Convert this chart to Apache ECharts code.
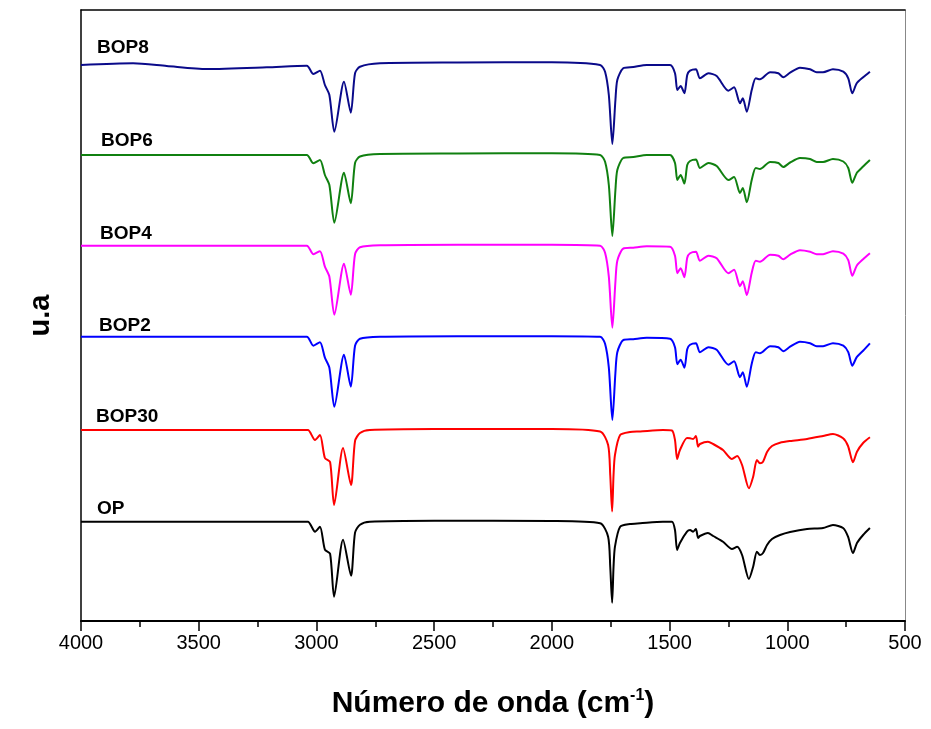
<!DOCTYPE html>
<html>
<head>
<meta charset="utf-8">
<script src="https://cdn.jsdelivr.net/npm/echarts@6/dist/echarts.min.js"></script>
<style>
html,body{margin:0;padding:0;background:#fff;}
#chart{width:931px;height:729px;}
</style>
</head>
<body>
<div id="chart"></div>
<script>
// Wavenumber grids (cm-1)
const wnA = [4000, 3500, 3070, 3036, 3006, 2985, 2964, 2942, 2925, 2887,
  2853, 2836, 2815, 2773, 2500, 2000, 1795, 1761, 1752, 1744,
  1738, 1732, 1710, 1668, 1625, 1528, 1490, 1477, 1468, 1456,
  1426, 1413, 1400, 1388, 1379, 1371, 1337, 1315, 1273, 1235,
  1213, 1192, 1163, 1145, 1129, 1116, 1103, 1086, 1065, 1031,
  988, 916, 848, 806, 763, 742, 721, 704, 678, 649];
const wnB = [4000, 3779, 3636, 3466, 3211, 3041, 3013, 2985, 2964, 2945,
  2924, 2883, 2854, 2836, 2815, 2730, 2400, 2000, 1795, 1774,
  1758, 1743, 1730, 1722, 1697, 1654, 1597, 1498, 1477, 1467,
  1453, 1437, 1425, 1413, 1388, 1371, 1335, 1300, 1250, 1226,
  1201, 1189, 1172, 1151, 1134, 1116, 1073, 1038, 1017, 988,
  946, 903, 875, 848, 806, 762, 741, 724, 705, 678,
  649];

// Band depth below each spectrum's baseline (u.a.)
const depthOP = [0, 0, 0, 0, 10, 5, 28, 32, 75, 18,
  54, 11, 3, 0, -1, -0.7, 1.6, 15, 45, 81,
  45, 25, 5, 2.3, 1.6, 0, 0, 8.3, 28.3, 21.3,
  10, 8.3, 10, 7.3, 16.3, 14.3, 11.3, 14.3, 20, 27.3,
  25, 33.3, 57.3, 45, 30, 33.3, 31.3, 23.3, 17.3, 13.3,
  10.3, 7.3, 6.3, 3.3, 6.3, 15, 31.3, 21.3, 13.3, 6.3];
const depthBOP30 = [0, 0, 0, 0, 10, 5, 28, 32, 75, 18,
  55, 11, 3, 0, -1, -1, 1.5, 15, 45, 81.5,
  45, 25, 5, 2, 1.5, 0, 0.5, 10, 29, 20,
  8, 8.3, 9, 6, 16.7, 14, 11.7, 14, 20, 29,
  26, 35, 58.3, 46.7, 30, 33.3, 31.7, 22, 16, 12.7,
  11, 9, 6, 4, 8.3, 16, 32.3, 21.7, 13, 7.3];
const depthBOP2 = [0, 0, 0, 0, 0, 0, 9, 5.5, 21, 31,
  70, 18, 50, 9, 2, 0, -0.5, -0.5, 0, 7,
  31, 83.3, 36, 15.5, 3.5, 2.5, 1, 2, 10.5, 27.5,
  23, 31, 12.5, 8, 6.5, 15.5, 10.5, 13, 28, 24.5,
  40.5, 35.5, 50, 27, 15.5, 16.5, 9.5, 10.5, 14.5, 10,
  5, 6.5, 9.5, 9.5, 6.5, 9, 15.5, 29, 20.5, 14,
  6.6];
const depthBOP4 = [0, 0, 0, 0, 0, 0, 8.5, 5.5, 21, 31,
  69, 18, 49, 8.5, 1.5, -0.5, -1, -1, 0, 7,
  31, 82, 36, 15, 3, 2, 0.5, 1, 10, 27.5,
  22.5, 31.5, 12, 7.5, 6, 15, 10, 12.5, 27.5, 24,
  40.5, 35.5, 49.3, 27, 15, 16, 9, 10, 13.5, 9,
  4.5, 6, 8.5, 8.5, 5.5, 8, 14.5, 30, 20, 13.5,
  7.6];
const depthBOP6 = [0, 0, 0, 0, 0, 0, 8.3, 5, 20, 30,
  67.7, 17.7, 48.3, 8, 1.5, -1, -1.5, -1.7, 0, 6.7,
  30, 81, 35, 15, 3, 2, 0, 0, 8, 25,
  20, 28.5, 10, 6, 4.5, 13, 8, 11, 25, 22,
  38, 33, 47.3, 25, 13, 14, 7, 8, 12, 7.5,
  3, 4, 7, 7, 4, 6.5, 13, 27.7, 18, 11.5,
  5];
const depthBOP8 = [0, -1.7, 1, 4, 2.3, 0.7, 9, 5.7, 20, 30,
  66.7, 16.7, 47.7, 8.3, 1.7, -1.7, -2.5, -2.7, 0, 6.7,
  30, 79, 35, 15, 3.3, 2, 0, 0, 8.3, 25,
  21, 28.3, 10, 5.7, 4.3, 13.3, 8.3, 11, 25.7, 22.3,
  38.3, 33.3, 46.7, 25, 13.3, 14.3, 7.3, 8.3, 12.3, 7.7,
  2.7, 4.3, 7.3, 7.3, 4.3, 6.7, 13.3, 28.3, 18.3, 12.3,
  6.7];

// Vertical offsets (baseline level of each spectrum, u.a.)
const seriesNames = ['OP', 'BOP30', 'BOP2', 'BOP4', 'BOP6', 'BOP8'];
const baselines = [99.3, 191, 284.3, 375.3, 466, 556];
const seriesColors = ['#000000', '#ff0000', '#0000ff', '#ff00ff', '#108010', '#0a0a8a'];
const xTicks = [4000, 3500, 3000, 2500, 2000, 1500, 1000, 500];

const grids = [wnA, wnA, wnB, wnB, wnB, wnB];
const depths = [depthOP, depthBOP30, depthBOP2, depthBOP4, depthBOP6, depthBOP8];
const labelPos = [[97, 499], [96, 407], [99, 316], [100, 224], [101, 131], [97, 38]];

const series = seriesNames.map((name, k) => ({
  name: name,
  type: 'line',
  xAxisIndex: 0,
  yAxisIndex: 0,
  showSymbol: false,
  symbol: 'none',
  smooth: 0.25,
  lineStyle: { color: seriesColors[k], width: 2 },
  data: grids[k].map((w, i) => [w, baselines[k] - depths[k][i]])
}));

const chart = echarts.init(document.getElementById('chart'), null, { renderer: 'canvas' });
const FONT = 'Liberation Sans, Arial, sans-serif';
chart.setOption({
  animation: false,
  backgroundColor: '#ffffff',
  grid: { left: 81, right: 26, top: 10, bottom: 108 },
  xAxis: [{
    type: 'value',
    min: 500, max: 4000, interval: 500, inverse: true,
    position: 'bottom',
    axisLine: { show: true, onZero: false, lineStyle: { color: '#000', width: 2 } },
    axisTick: { show: true, length: 10, lineStyle: { color: '#000', width: 1.5 } },
    minorTick: { show: true, splitNumber: 2, length: 6, lineStyle: { color: '#000', width: 1.5 } },
    splitLine: { show: false },
    axisLabel: {
      fontSize: 20, color: '#000', margin: 12, fontFamily: FONT,
      formatter: v => xTicks.includes(v) ? String(v) : ''
    },
    name: 'Número de onda (cm{sup|-1})',
    nameLocation: 'middle',
    nameGap: 67,
    nameTextStyle: {
      fontSize: 30, fontWeight: 'bold', color: '#000', fontFamily: FONT,
      rich: { sup: { fontSize: 16, fontWeight: 'bold', color: '#000', verticalAlign: 'top', padding: [0, 0, 16, 0], fontFamily: FONT } }
    }
  }, {
    type: 'value', min: 500, max: 4000, inverse: true, position: 'top',
    axisLine: { show: true, onZero: false, lineStyle: { color: '#000', width: 1.5 } },
    axisTick: { show: false }, axisLabel: { show: false }, splitLine: { show: false }
  }],
  yAxis: [{
    type: 'value', min: 0, max: 611,
    axisLine: { show: true, onZero: false, lineStyle: { color: '#000', width: 1.5 } },
    axisTick: { show: false }, axisLabel: { show: false }, splitLine: { show: false },
    name: 'u.a', nameLocation: 'middle', nameGap: 26, nameRotate: 90,
    nameTextStyle: { fontSize: 29, fontWeight: 'bold', color: '#000', fontFamily: FONT }
  }, {
    type: 'value', min: 0, max: 611, position: 'right',
    axisLine: { show: true, onZero: false, lineStyle: { color: '#888', width: 1 } },
    axisTick: { show: false }, axisLabel: { show: false }, splitLine: { show: false }
  }],
  graphic: seriesNames.map((name, k) => ({
    type: 'text', left: labelPos[k][0], top: labelPos[k][1],
    style: { text: name, font: 'bold 19px ' + FONT, fill: '#000' }
  })),
  series: series
});
</script>
</body>
</html>
